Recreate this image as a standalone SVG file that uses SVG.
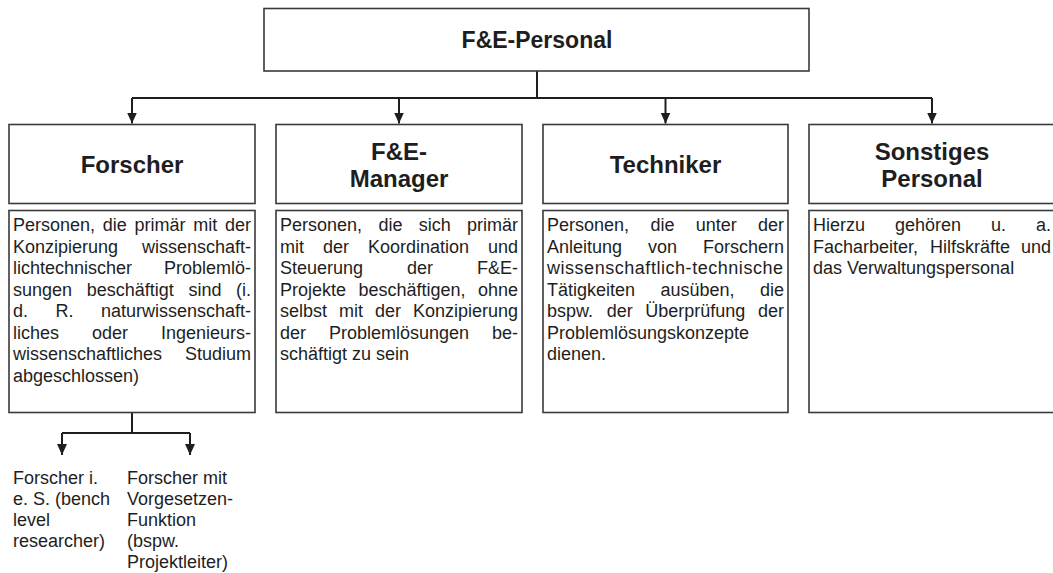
<svg xmlns="http://www.w3.org/2000/svg" width="1053" height="573" viewBox="0 0 1053 573">
  <style>
    .box { fill: #ffffff; stroke: #3a3a3a; stroke-width: 1.6; }
    .wire { fill: none; stroke: #1e1e1e; stroke-width: 2; }
    .head { font-family: "Liberation Sans", Arial, Helvetica, sans-serif; font-weight: bold; font-size: 24px; fill: #1e1e1e; text-anchor: middle; }
    .top { font-size: 23px; }
    .body { font-family: "Liberation Sans", Arial, Helvetica, sans-serif; font-size: 18px; fill: #1e1e1e; }
    .r { text-anchor: end; }
  </style>
  <defs>
    <marker id="arrow" markerUnits="userSpaceOnUse" markerWidth="11" markerHeight="10" viewBox="0 0 11 10" refX="11" refY="5" orient="auto">
      <path d="M0,0 L11,5 L0,10 Z" fill="#1e1e1e"/>
    </marker>
  </defs>

  <rect width="1053" height="573" fill="#ffffff"/>

  <!-- connectors -->
  <g id="connectors">
    <path class="wire" d="M537,71 V98 M132,98 H932"/>
    <path class="wire" d="M132,98 V123.5" marker-end="url(#arrow)"/>
    <path class="wire" d="M399,98 V123.5" marker-end="url(#arrow)"/>
    <path class="wire" d="M665.5,98 V123.5" marker-end="url(#arrow)"/>
    <path class="wire" d="M932,98 V123.5" marker-end="url(#arrow)"/>
    <path class="wire" d="M132,412.5 V433 M62,433 H190"/>
    <path class="wire" d="M62,433 V455" marker-end="url(#arrow)"/>
    <path class="wire" d="M190,433 V455" marker-end="url(#arrow)"/>
  </g>

  <!-- root -->
  <g id="node-fe-personal">
    <rect class="box" x="264" y="8.5" width="545" height="62.5"/>
    <text class="head top" x="537" y="48">F&amp;E-Personal</text>
  </g>

  <!-- Forscher (justified words are placed one by one; no whitespace between tspans) -->
  <g id="node-forscher">
    <rect class="box" x="9" y="124.5" width="246" height="79"/>
    <text class="head" x="132" y="173">Forscher</text>
    <rect class="box" x="9" y="210.5" width="246" height="202"/>
    <text class="body"><tspan x="13" y="231">Personen,</tspan><tspan x="102.8" y="231">die</tspan><tspan x="134.5" y="231">primär</tspan><tspan x="193.3" y="231">mit</tspan><tspan class="r" x="251" y="231">der</tspan
      ><tspan x="13" y="252.5">Konzipierung</tspan><tspan class="r" x="251" y="252.5">wissenschaft-</tspan
      ><tspan x="13" y="274">lichtechnischer</tspan><tspan class="r" x="251" y="274">Problemlö-</tspan
      ><tspan x="13" y="295.5">sungen</tspan><tspan x="86.7" y="295.5">beschäftigt</tspan><tspan x="188.4" y="295.5">sind</tspan><tspan class="r" x="251" y="295.5">(i.</tspan
      ><tspan x="13" y="317">d.</tspan><tspan x="55.5" y="317">R.</tspan><tspan class="r" x="251" y="317">naturwissenschaft-</tspan
      ><tspan x="13" y="338.5">liches</tspan><tspan x="92" y="338.5">oder</tspan><tspan class="r" x="251" y="338.5">Ingenieurs-</tspan
      ><tspan x="13" y="360">wissenschaftliches</tspan><tspan class="r" x="251" y="360">Studium</tspan
      ><tspan x="13" y="381.5">abgeschlossen)</tspan></text>
  </g>

  <!-- F&E-Manager -->
  <g id="node-manager">
    <rect class="box" x="276" y="124.5" width="246" height="79"/>
    <text class="head" x="399" y="160">F&amp;E-</text>
    <text class="head" x="399" y="187">Manager</text>
    <rect class="box" x="276" y="210.5" width="246" height="202"/>
    <text class="body"><tspan x="280" y="231">Personen,</tspan><tspan x="378.4" y="231">die</tspan><tspan x="418.7" y="231">sich</tspan><tspan class="r" x="518" y="231">primär</tspan
      ><tspan x="280" y="252.5">mit</tspan><tspan x="323" y="252.5">der</tspan><tspan x="368" y="252.5">Koordination</tspan><tspan class="r" x="518" y="252.5">und</tspan
      ><tspan x="280" y="274">Steuerung</tspan><tspan x="407" y="274">der</tspan><tspan class="r" x="518" y="274">F&amp;E-</tspan
      ><tspan x="280" y="295.5">Projekte</tspan><tspan x="358.5" y="295.5">beschäftigen,</tspan><tspan class="r" x="518" y="295.5">ohne</tspan
      ><tspan x="280" y="317">selbst</tspan><tspan x="339" y="317">mit</tspan><tspan x="375" y="317">der</tspan><tspan class="r" x="518" y="317">Konzipierung</tspan
      ><tspan x="280" y="338.5">der</tspan><tspan x="329" y="338.5">Problemlösungen</tspan><tspan class="r" x="518" y="338.5">be-</tspan
      ><tspan x="280" y="360">schäftigt zu sein</tspan></text>
  </g>

  <!-- Techniker -->
  <g id="node-techniker">
    <rect class="box" x="543" y="124.5" width="245" height="79"/>
    <text class="head" x="665.5" y="173">Techniker</text>
    <rect class="box" x="543" y="210.5" width="245" height="202"/>
    <text class="body"><tspan x="547" y="231">Personen,</tspan><tspan x="650.4" y="231">die</tspan><tspan x="695.7" y="231">unter</tspan><tspan class="r" x="784" y="231">der</tspan
      ><tspan x="547" y="252.5">Anleitung</tspan><tspan x="648" y="252.5">von</tspan><tspan class="r" x="784" y="252.5">Forschern</tspan></text>
    <text class="body" x="547" y="274" textLength="236" lengthAdjust="spacing">wissenschaftlich-technische</text>
    <text class="body"><tspan x="547" y="295.5">Tätigkeiten</tspan><tspan x="660.5" y="295.5">ausüben,</tspan><tspan class="r" x="784" y="295.5">die</tspan
      ><tspan x="547" y="317">bspw.</tspan><tspan x="606.7" y="317">der</tspan><tspan x="645.3" y="317">Überprüfung</tspan><tspan class="r" x="784" y="317">der</tspan
      ><tspan x="547" y="338.5">Problemlösungskonzepte</tspan
      ><tspan x="547" y="360">dienen.</tspan></text>
  </g>

  <!-- Sonstiges Personal -->
  <g id="node-sonstiges">
    <rect class="box" x="809" y="124.5" width="250" height="79"/>
    <text class="head" x="932" y="160">Sonstiges</text>
    <text class="head" x="932" y="187">Personal</text>
    <rect class="box" x="809" y="210.5" width="250" height="202"/>
    <text class="body"><tspan x="813" y="231">Hierzu</tspan><tspan x="895" y="231">gehören</tspan><tspan x="991" y="231">u.</tspan><tspan class="r" x="1051" y="231">a.</tspan
      ><tspan x="813" y="252.5">Facharbeiter,</tspan><tspan x="930" y="252.5">Hilfskräfte</tspan><tspan class="r" x="1051" y="252.5">und</tspan
      ><tspan x="813" y="274">das Verwaltungspersonal</tspan></text>
  </g>

  <!-- sub-groups of researchers -->
  <g id="node-forscher-ies">
    <text class="body"><tspan x="13" y="484">Forscher i.</tspan
      ><tspan x="13" y="505">e. S. (bench</tspan
      ><tspan x="13" y="526">level</tspan
      ><tspan x="13" y="547">researcher)</tspan></text>
  </g>
  <g id="node-forscher-vorgesetzte">
    <text class="body"><tspan x="127" y="484">Forscher mit</tspan
      ><tspan x="127" y="505">Vorgesetzen-</tspan
      ><tspan x="127" y="526">Funktion</tspan
      ><tspan x="127" y="547">(bspw.</tspan
      ><tspan x="127" y="568">Projektleiter)</tspan></text>
  </g>
</svg>
